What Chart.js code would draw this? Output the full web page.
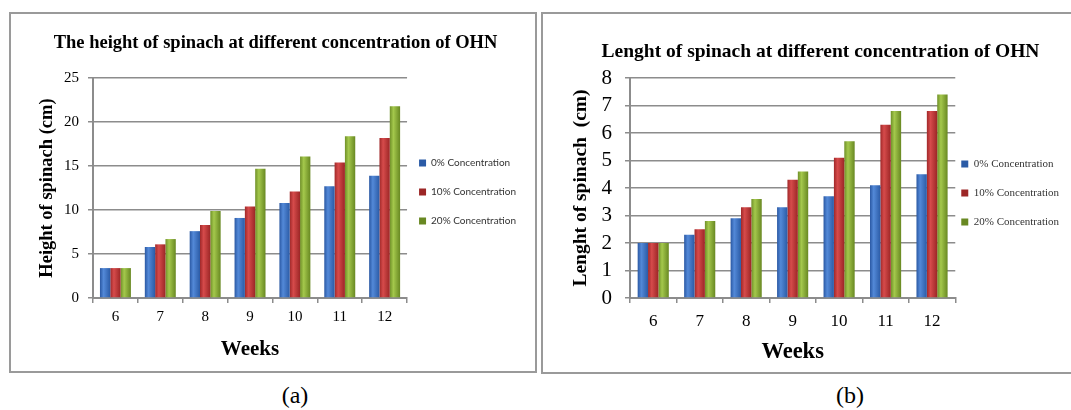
<!DOCTYPE html>
<html>
<head>
<meta charset="utf-8">
<script src="https://cdn.jsdelivr.net/npm/chart.js@4.4.0/dist/chart.umd.min.js"></script>
<style>
  body { margin:0; width:1071px; height:410px; overflow:hidden; background:#fff; position:relative; font-family:"Liberation Serif", serif; }
  .frame { position:absolute; border:2px solid #9a9a9a; box-sizing:border-box; }
  #frameA { left:9px; top:12px; width:528px; height:361px; }
  #frameB { left:541px; top:12px; width:540px; height:362px; }
  canvas { position:absolute; }
  #chartA { left:18px; top:14px; }
  #chartB { left:560px; top:14px; }
  .cap { position:absolute; top:381px; width:60px; text-align:center; font-size:24px; line-height:28px; color:#000; }
</style>
</head>
<body>
<div class="frame" id="frameA"></div>
<div class="frame" id="frameB"></div>
<canvas id="chartA" width="515" height="356"></canvas>
<canvas id="chartB" width="521" height="357"></canvas>
<div class="cap" style="left:265px">(a)</div>
<div class="cap" style="left:820px">(b)</div>
<script>
// data
const weeks = ['6', '7', '8', '9', '10', '11', '12'];
const seriesNames = ['0% Concentration', '10% Concentration', '20% Concentration'];

const heightC0 = [3.4, 5.8, 7.6, 9.1, 10.8, 12.7, 13.9];
const heightC10 = [3.4, 6.1, 8.3, 10.4, 12.1, 15.4, 18.2];
const heightC20 = [3.4, 6.7, 9.9, 14.7, 16.1, 18.4, 21.8];

const lengthC0 = [2.0, 2.3, 2.9, 3.3, 3.7, 4.1, 4.5];
const lengthC10 = [2.0, 2.5, 3.3, 4.3, 5.1, 6.3, 6.8];
const lengthC20 = [2.0, 2.8, 3.6, 4.6, 5.7, 6.8, 7.4];

const solidColors = ['#3b6fc1', '#c23b3b', '#8ab13a'];
const barColors = [
    ['#2a58a3', '#5389d8', '#2b5ba6'],
    ['#a02829', '#d64b4b', '#9c2626'],
    ['#6f9028', '#a4c84c', '#688822']
];
const gridCol = '#8c8c8c';
const serif = 'Liberation Serif';

// little horizontal shading per bar, like the 3d look of the original
function barFill(c, catPct) {
    let chart = c.chart;
    if (c.type !== 'data' || !chart.chartArea) return solidColors[c.datasetIndex];
    let xs = chart.scales.x;
    let catW = (xs.right - xs.left) / chart.data.labels.length;
    let groupW = catW * catPct;
    let barW = groupW / 3;
    let left = xs.getPixelForValue(c.dataIndex) - groupW / 2 + barW * c.datasetIndex;
    let g = chart.ctx.createLinearGradient(left, 0, left + barW, 0);
    let cols = barColors[c.datasetIndex];
    g.addColorStop(0, cols[0]);
    g.addColorStop(0.35, cols[1]);
    g.addColorStop(1, cols[2]);
    return g;
}

// pulls the legend a bit closer to the plot, as in the original
function legendNudge(dx) {
    return {
        id: 'legendNudge',
        afterLayout(chart) {
            chart.legend.left += dx;
            chart.legend.right += dx;
        }
    };
}

function makeChart(id, values, p) {
    let ds = values.map((v, i) => ({
        label: seriesNames[i],
        data: v,
        backgroundColor: c => barFill(c, p.catPct),
        borderWidth: 0,
        categoryPercentage: p.catPct,
        barPercentage: 1.0
    }));

    return new Chart(document.getElementById(id).getContext('2d'), {
        type: 'bar',
        data: { labels: weeks, datasets: ds },
        plugins: [legendNudge(p.legendDx)],
        options: {
            responsive: false,
            animation: false,
            layout: { padding: { top: p.padT, bottom: p.padB, left: 0, right: 0 } },
            plugins: {
                title: {
                    display: true,
                    text: p.title,
                    color: '#000',
                    font: { family: serif, size: p.titleSize, weight: 'bold' },
                    padding: { top: p.titleTop, bottom: p.titleBottom }
                },
                legend: {
                    position: 'right',
                    labels: {
                        boxWidth: 7,
                        boxHeight: 7,
                        padding: p.legendPad,
                        color: '#333',
                        font: { family: p.legendFont, size: p.legendSize }
                    }
                },
                tooltip: { enabled: false }
            },
            scales: {
                x: {
                    grid: { offset: true, drawOnChartArea: false, color: gridCol, lineWidth: 1.5, tickLength: 5 },
                    border: { color: gridCol, width: 2 },
                    ticks: { color: '#000', font: { family: serif, size: p.xTickSize }, padding: p.xTickPad },
                    title: { display: true, text: 'Weeks', color: '#000', font: { family: serif, size: p.weeksSize, weight: 'bold' }, padding: 0 },
                    afterFit: s => { s.height = p.xHeight; }
                },
                y: {
                    min: 0,
                    max: p.yMax,
                    ticks: { stepSize: p.yStep, autoSkip: false, color: '#000', font: { family: serif, size: p.yTickSize }, padding: p.yTickPad },
                    grid: { color: gridCol, lineWidth: 1.5, tickLength: 5 },
                    border: { color: gridCol, width: 2 },
                    title: { display: true, text: p.yTitle, color: '#000', font: { family: serif, size: p.yTitleSize, weight: 'bold' }, padding: { top: p.yTitlePad, bottom: 0 } },
                    afterFit: s => { s.width = p.yWidth; }
                }
            }
        }
    });
}

makeChart('chartA', [heightC0, heightC10, heightC20], {
    title: 'The height of spinach at different concentration of OHN',
    titleSize: 18.5, titleTop: 10.5, titleBottom: 24,
    padT: 7.4, padB: 7.4,
    legendFont: 'Lato', legendSize: 10, legendPad: 19, legendDx: -7,
    catPct: 0.69,
    xTickSize: 15, xTickPad: 5, weeksSize: 21, xHeight: 64.6,
    yMax: 25, yStep: 5, yTickSize: 15, yTickPad: 9,
    yTitle: 'Height of spinach (cm)', yTitleSize: 18.5, yTitlePad: 18, yWidth: 75
});

makeChart('chartB', [lengthC0, lengthC10, lengthC20], {
    title: 'Lenght of spinach at different concentration of OHN',
    titleSize: 19.5, titleTop: 19.5, titleBottom: 14.3,
    padT: 6.8, padB: 5.8,
    legendFont: serif, legendSize: 11, legendPad: 18, legendDx: -12,
    catPct: 0.67,
    xTickSize: 17, xTickPad: 8, weeksSize: 22.5, xHeight: 67.2,
    yMax: 8, yStep: 1, yTickSize: 21, yTickPad: 13,
    yTitle: 'Lenght of spinach  (cm)', yTitleSize: 19.5, yTitlePad: 9.3, yWidth: 70
});
</script>
</body>
</html>
